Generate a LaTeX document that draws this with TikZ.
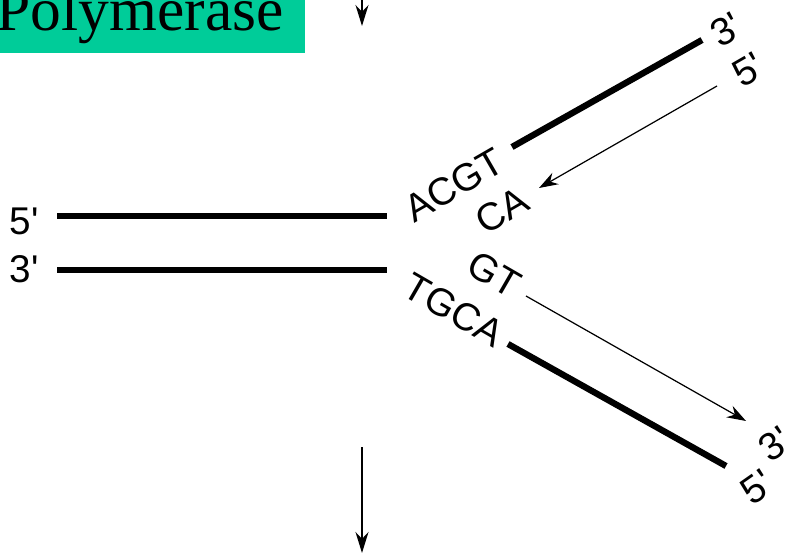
\documentclass[tikz,border=0pt]{standalone}
\usepackage{fontspec}
\setmainfont{Liberation Sans}
\newfontfamily\timesfont{Liberation Serif}
\usepackage{xcolor}
\usetikzlibrary{arrows.meta,positioning}
\definecolor{polyGreen}{HTML}{00CC99}
\newcommand{\pr}{\textquotesingle}

\begin{document}
\begin{tikzpicture}[x=0.02cm,y=-0.02cm,
  strand/.style={line width=3.6pt,line cap=butt},
  feed/.style={line width=0.9pt,-{Stealth[length=4.2mm,width=2.6mm]}},
  synth/.style={line width=0.7pt,-{Stealth[length=3.8mm,width=2.6mm]}},
  base/.style={inner sep=0pt,font=\fontsize{22}{24}\selectfont}]
\useasboundingbox (0,0) rectangle (794,557);
% --- polymerase ---
\fill[polyGreen] (-10,-10) rectangle (305,53);
\node[inner sep=0pt,anchor=base east,font=\timesfont\fontsize{35}{40}\selectfont] (poly) at (284,31) {Polymerase};
\coordinate (inTop) at (362,-2);
\coordinate (inEnd) at (362,26);
\draw[feed] (inTop) -- (inEnd);
\coordinate (outTop) at (362,447);
\coordinate (outEnd) at (362,553);
\draw[feed] (outTop) -- (outEnd);
% --- parent duplex ---
\coordinate (topL) at (57,216);
\coordinate (topR) at (387,216);
\coordinate (botL) at (57,270);
\coordinate (botR) at (387,270);
\draw[strand] (topL) -- (topR);
\draw[strand] (botL) -- (botR);
\node[base] (fiveL) at (24,221) {5\pr};
\node[base] (threeL) at (24,269) {3\pr};
% --- upper fork ---
\coordinate (upA) at (512,147);
\coordinate (upB) at (702,40);
\coordinate (upS) at (717,86);
\coordinate (upE) at (539,188);
\draw[strand] (upA) -- (upB);
\draw[synth] (upS) -- (upE);
\node[base,rotate=30] (acgt) at (454,185) {ACGT};
\node[base,rotate=30] (ca) at (502,211) {CA};
\node[base,rotate=30] (threeU) at (726,30) {3\pr};
\node[base,rotate=30] (fiveU) at (748,70) {5\pr};
% --- lower fork ---
\coordinate (loA) at (508,344);
\coordinate (loB) at (726,466);
\coordinate (loS) at (526,296);
\coordinate (loE) at (746,421);
\draw[strand] (loA) -- (loB);
\draw[synth] (loS) -- (loE);
\node[base,rotate=-30] (gt) at (494,274) {GT};
\node[base,rotate=-30] (tgca) at (454,310) {TGCA};
\node[base,rotate=35] (threeD) at (775,444) {3\pr};
\node[base,rotate=35] (fiveD) at (757,487) {5\pr};
\end{tikzpicture}
\end{document}
